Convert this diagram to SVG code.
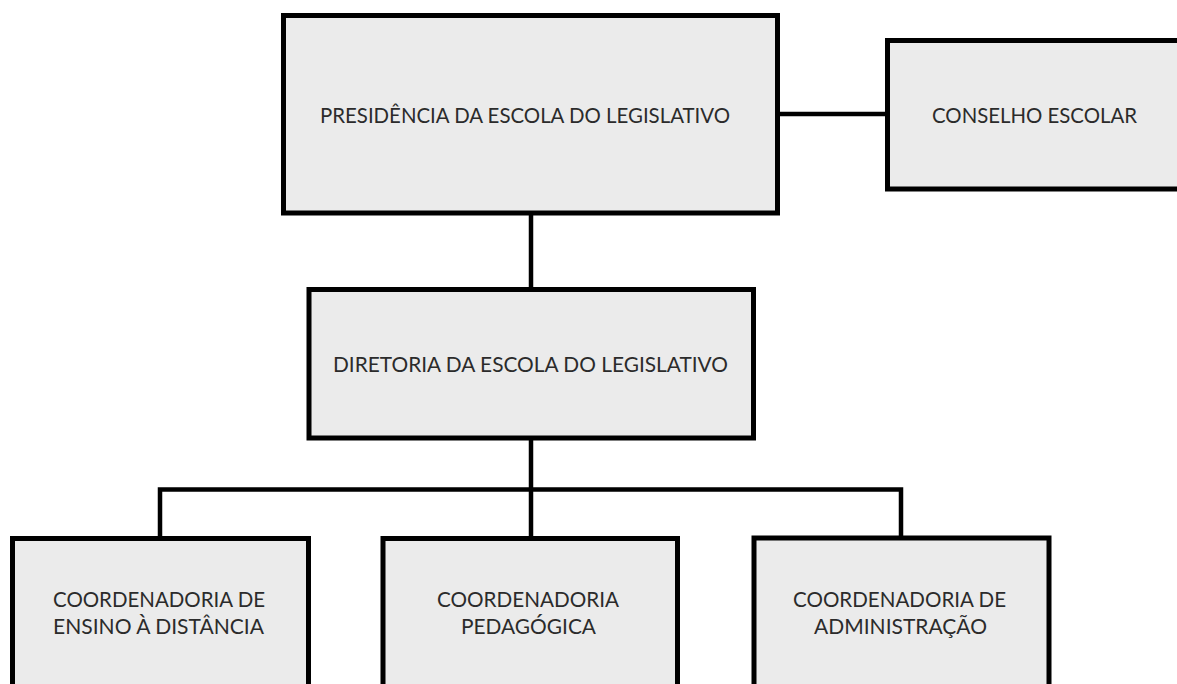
<svg xmlns="http://www.w3.org/2000/svg" width="1177" height="684" viewBox="0 0 1177 684">
  <style>
    .box { fill: #ebebeb; stroke: #000; stroke-width: 5; }
    .lbl { font-family: Lato, "Liberation Sans", sans-serif; font-size: 21px; fill: #2b2b2b; }
    .conn { fill: none; stroke: #000; stroke-width: 4.5; }
  </style>
  <rect width="1177" height="684" fill="#fff"/>
  <g id="connectors">
    <line class="conn" x1="777" y1="114" x2="887" y2="114"/>
    <line class="conn" x1="531" y1="213" x2="531" y2="289"/>
    <line class="conn" x1="531" y1="438" x2="531" y2="537"/>
    <polyline class="conn" points="160,537 160,489.5 901,489.5 901,537"/>
  </g>
  <g id="presidencia">
    <rect class="box" x="283.5" y="15.5" width="494" height="197.5"/>
    <text class="lbl" x="320" y="123" textLength="410" lengthAdjust="spacingAndGlyphs">PRESIDÊNCIA DA ESCOLA DO LEGISLATIVO</text>
  </g>
  <g id="conselho">
    <rect class="box" x="887.5" y="40.5" width="300" height="148.5"/>
    <text class="lbl" x="932" y="123" textLength="205" lengthAdjust="spacingAndGlyphs">CONSELHO ESCOLAR</text>
  </g>
  <g id="diretoria">
    <rect class="box" x="309" y="289.5" width="444.5" height="148.5"/>
    <text class="lbl" x="333" y="372" textLength="395" lengthAdjust="spacingAndGlyphs">DIRETORIA DA ESCOLA DO LEGISLATIVO</text>
  </g>
  <g id="coord-ensino">
    <rect class="box" x="12.5" y="538.5" width="296" height="160"/>
    <text class="lbl" x="53" y="607" textLength="212" lengthAdjust="spacingAndGlyphs">COORDENADORIA DE</text>
    <text class="lbl" x="53" y="634" textLength="211" lengthAdjust="spacingAndGlyphs">ENSINO À DISTÂNCIA</text>
  </g>
  <g id="coord-pedagogica">
    <rect class="box" x="383" y="538.5" width="294.5" height="160"/>
    <text class="lbl" x="437" y="607" textLength="182" lengthAdjust="spacingAndGlyphs">COORDENADORIA</text>
    <text class="lbl" x="461" y="634" textLength="135" lengthAdjust="spacingAndGlyphs">PEDAGÓGICA</text>
  </g>
  <g id="coord-administracao">
    <rect class="box" x="754" y="538" width="295" height="160"/>
    <text class="lbl" x="793" y="607" textLength="213" lengthAdjust="spacingAndGlyphs">COORDENADORIA DE</text>
    <text class="lbl" x="814" y="634" textLength="173" lengthAdjust="spacingAndGlyphs">ADMINISTRAÇÃO</text>
  </g>
</svg>
